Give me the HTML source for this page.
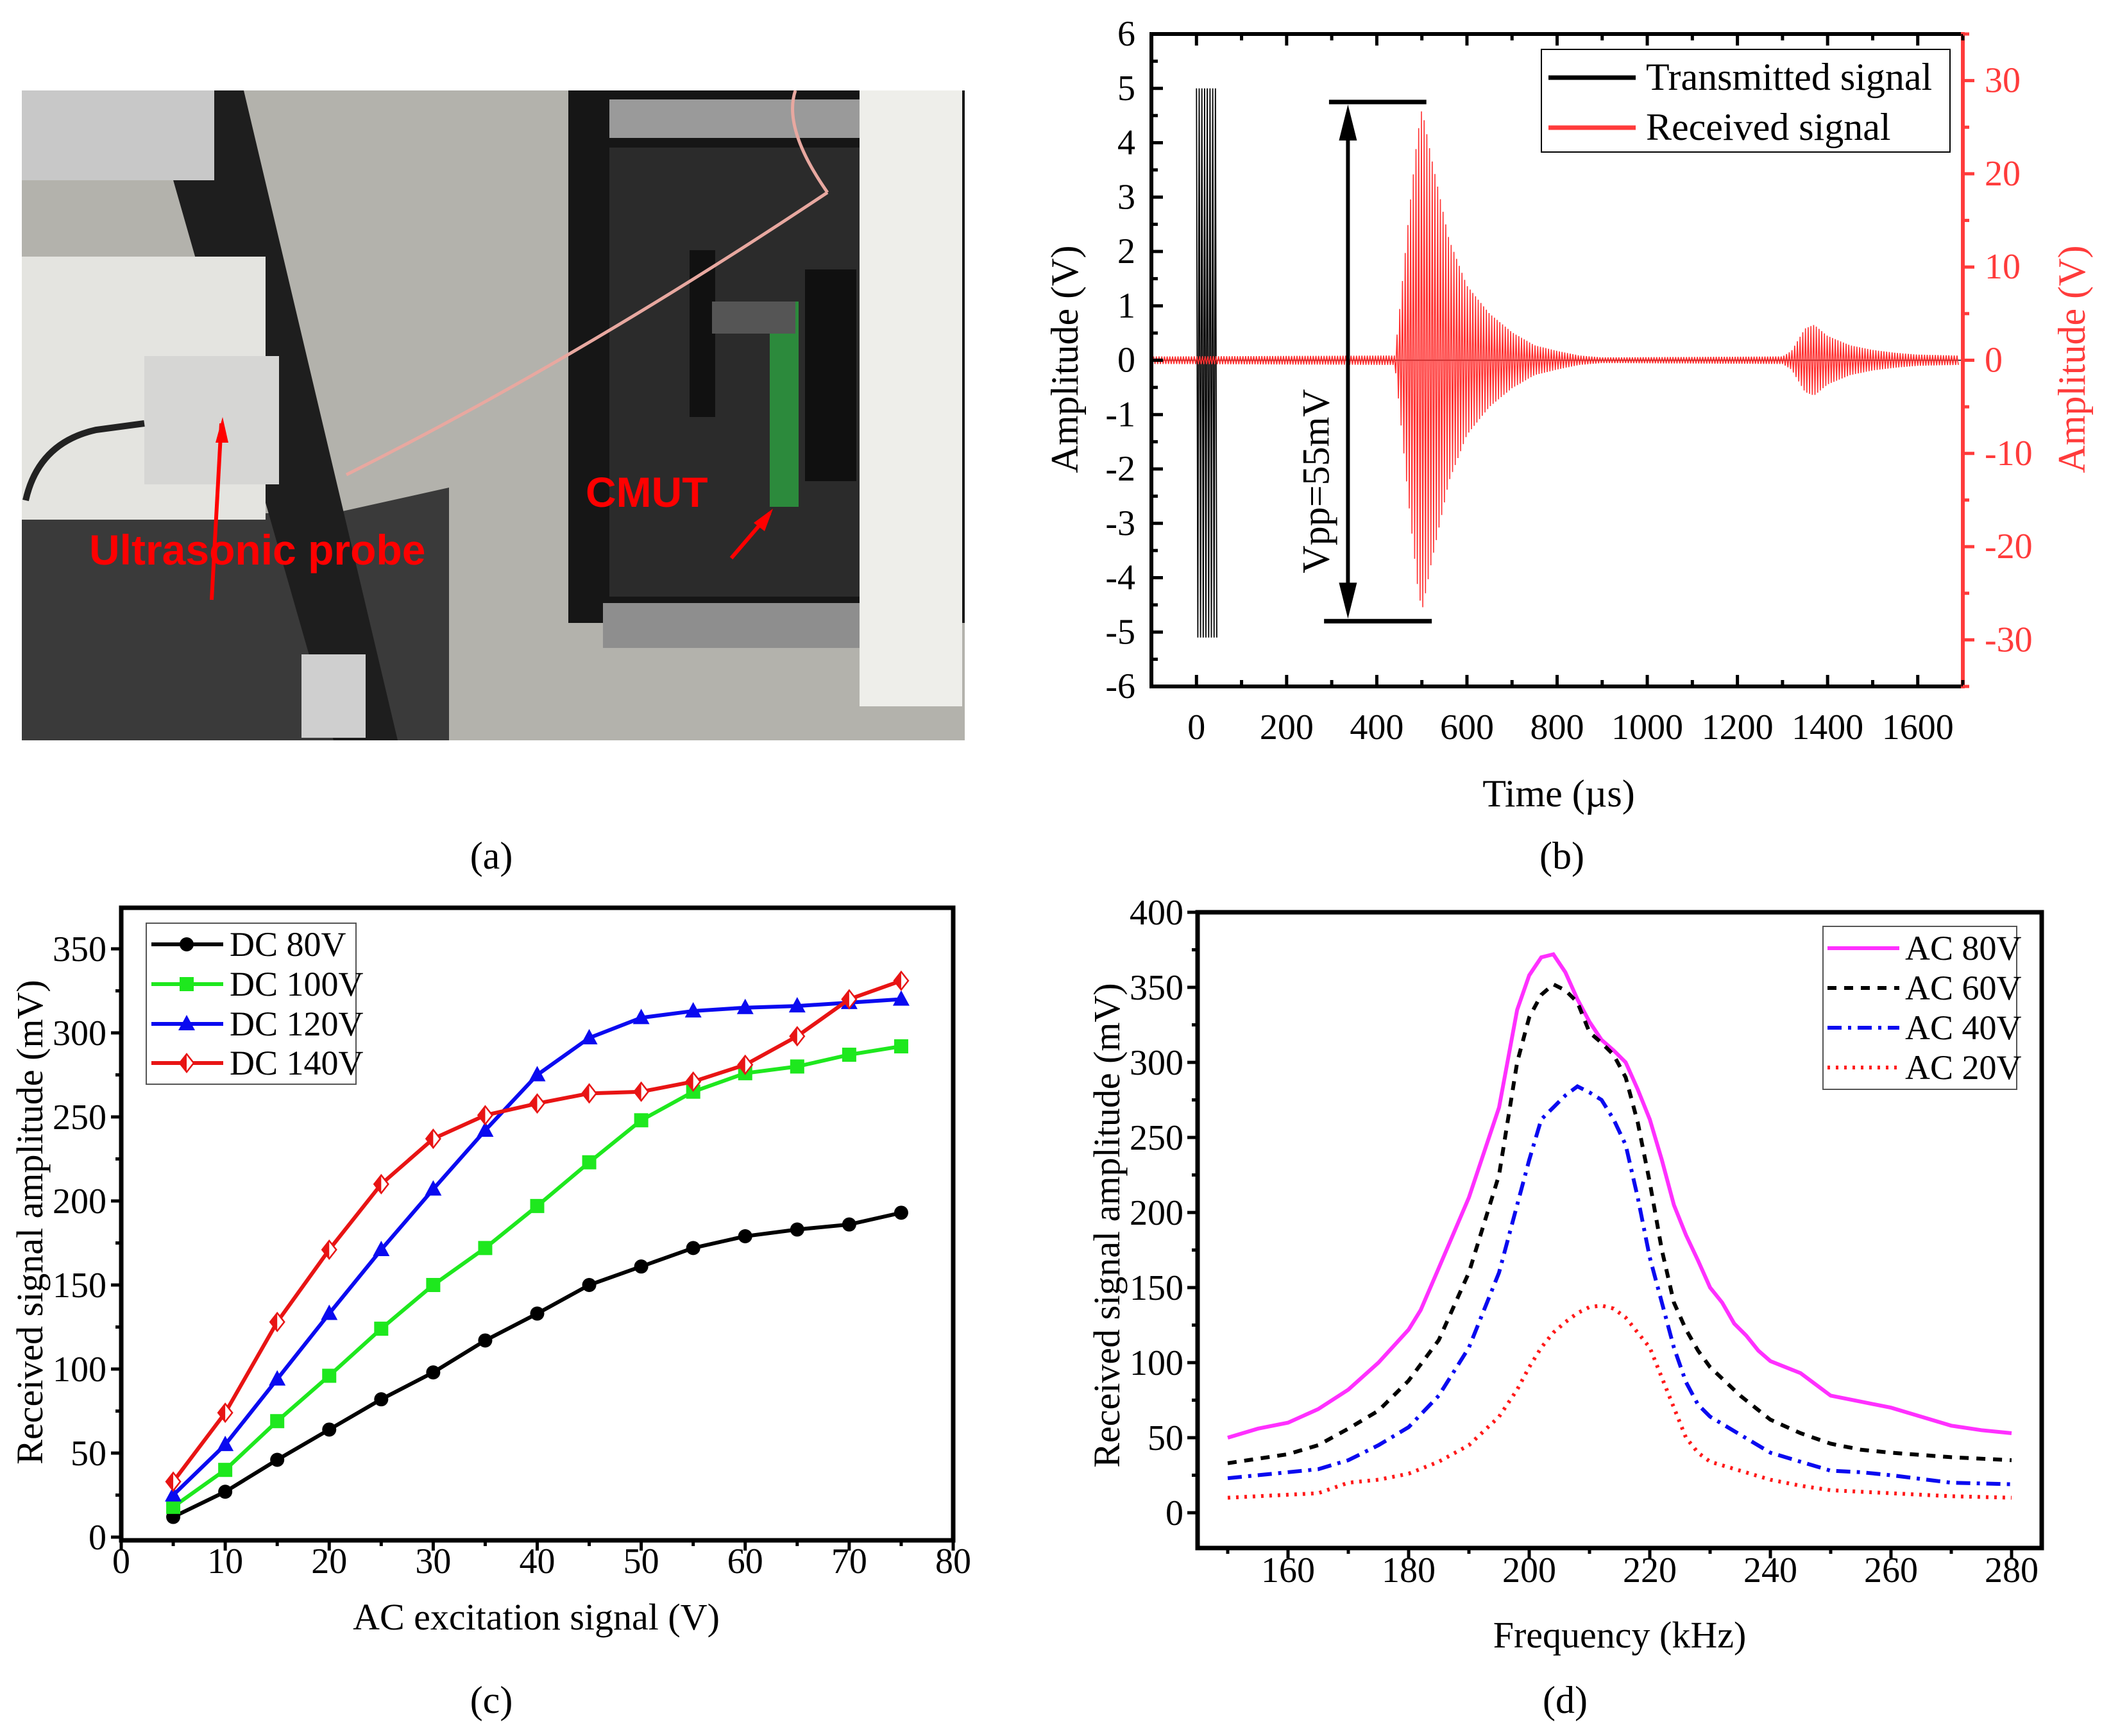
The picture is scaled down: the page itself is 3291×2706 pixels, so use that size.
<!DOCTYPE html>
<html><head><meta charset="utf-8"><style>
html,body{margin:0;padding:0;background:#fff}
svg{display:block}
text{font-family:"Liberation Serif",serif}
</style></head><body>
<svg id="fig" xmlns="http://www.w3.org/2000/svg" width="3291" height="2706" viewBox="0 0 3291 2706">
<g id="photo">
  <rect x="34" y="141" width="1470" height="1013" fill="#a9a8a3"/>
  <rect x="34" y="141" width="1470" height="1013" fill="#bdbbb6" opacity="0.5"/>
  <polygon points="34,800 520,800 700,760 700,1154 34,1154" fill="#3a3a3a"/>
  <polygon points="230,141 380,141 620,1154 520,1154" fill="#1e1e1e"/>
  <rect x="34" y="141" width="300" height="140" fill="#c8c8c8"/>
  <rect x="34" y="400" width="380" height="410" fill="#e4e4e0"/>
  <rect x="225" y="555" width="210" height="200" fill="#d6d6d4"/>
  <path d="M40 780 Q60 690 150 670 L225 660" stroke="#222" stroke-width="10" fill="none"/>
  <rect x="886" y="141" width="618" height="830" fill="#161616"/>
  <rect x="950" y="230" width="500" height="700" fill="#2b2b2b"/>
  <rect x="950" y="155" width="400" height="60" fill="#9a9a9a"/>
  <rect x="940" y="940" width="540" height="70" fill="#8e8e8e"/>
  <rect x="1340" y="141" width="160" height="960" fill="#eeeeea"/>
  <rect x="1200" y="470" width="45" height="320" fill="#2c8a3c"/>
  <rect x="1255" y="420" width="80" height="330" fill="#101010"/>
  <rect x="1075" y="390" width="40" height="260" fill="#111"/>
  <rect x="1110" y="470" width="130" height="50" fill="#555"/>
  <rect x="470" y="1020" width="100" height="130" fill="#cfcfcf"/>
  <path d="M540 740 Q900 560 1290 300" stroke="#e8a8a0" stroke-width="5" fill="none"/>
  <path d="M1290 300 Q1220 200 1240 141" stroke="#e8a8a0" stroke-width="5" fill="none"/>
  <line x1="330" y1="935" x2="345" y2="660" stroke="#f00" stroke-width="6"/>
  <polygon points="347,650 336,690 356,690" fill="#f00"/>
  <line x1="1140" y1="870" x2="1200" y2="800" stroke="#f00" stroke-width="6"/>
  <polygon points="1205,793 1175,815 1192,828" fill="#f00"/>
  <text x="913" y="790" font-size="66" font-weight="bold" fill="#f00" style="font-family:'Liberation Sans',sans-serif">CMUT</text>
  <text x="139" y="880" font-size="66" font-weight="bold" fill="#f00" style="font-family:'Liberation Sans',sans-serif">Ultrasonic probe</text>
</g>
<text x="766" y="1354" font-size="60" text-anchor="middle">(a)</text>
<g id="pb"></g>
<g id="pc"></g>
<g id="pd"></g>
</svg>
<script>
// ---------- Panel (b) data ----------
const bXTicks=[0,200,400,600,800,1000,1200,1400,1600];
const bYLeftTicks=[6,5,4,3,2,1,0,-1,-2,-3,-4,-5,-6];
const bYRightTicks=[30,20,10,0,-10,-20,-30];
const txStart=[0]; const txEnd=[45]; const txAmpTop=[5]; const txAmpBottom=[-5.1];
const rxEnvTime=[-95,440,450,470,490,500,520,560,600,650,700,750,800,850,900,1300,1320,1350,1370,1400,1450,1500,1550,1600,1690];
const rxEnvAmp=[0.4,0.5,5,15,24,27,22,13,8,5,3,1.6,1,0.5,0.3,0.4,1,3.4,3.8,2.6,1.6,1.1,0.8,0.6,0.5];
// ---------- Panel (c) data ----------
const cX=[5,10,15,20,25,30,35,40,45,50,55,60,65,70,75];
const cDC80=[12,27,46,64,82,98,117,133,150,161,172,179,183,186,193];
const cDC100=[18,40,69,96,124,150,172,197,223,248,265,276,280,287,292];
const cDC120=[25,55,94,133,171,207,242,275,297,309,313,315,316,318,320];
const cDC140=[33,74,128,171,210,237,251,258,264,265,271,281,298,320,331];
const cXTicks=[0,10,20,30,40,50,60,70,80];
const cYTicks=[0,50,100,150,200,250,300,350];
// ---------- Panel (d) data ----------
const dF80=[150,155,160,165,170,175,180,182,185,190,195,198,200,202,204,206,208,210,212,214,216,218,220,222,224,226,228,230,232,234,236,238,240,245,250,255,260,265,270,275,280];
const dAC80=[50,56,60,69,82,100,122,135,163,210,270,335,358,370,372,360,342,327,315,308,300,282,262,235,205,185,168,150,140,126,118,108,101,93,78,74,70,64,58,55,53];
const dF60=[150,155,160,165,170,175,180,185,190,195,198,200,202,204,206,208,210,212,214,216,218,220,222,224,226,228,230,235,240,245,250,255,260,270,280];
const dAC60=[33,36,39,45,56,68,88,115,160,225,300,330,345,352,348,340,320,313,305,290,260,220,175,140,122,108,97,78,62,53,46,42,40,37,35];
const dF40=[150,155,160,165,170,175,180,185,190,195,198,200,202,204,206,208,210,212,214,216,218,220,222,224,226,228,230,235,240,245,250,255,260,270,280];
const dAC40=[23,25,27,29,35,45,57,78,110,160,205,235,262,270,278,284,280,275,262,245,210,170,140,110,87,72,64,52,40,34,28,27,25,20,19];
const dF20=[150,155,160,165,170,175,180,185,190,195,198,200,202,204,206,208,210,212,214,216,218,220,222,224,226,228,230,235,240,245,250,260,270,280];
const dAC20=[10,11,12,13,20,22,26,34,45,64,82,97,110,120,127,133,137,138,136,130,120,110,90,70,50,40,34,28,22,18,15,13,11,10];
const dXTicks=[160,180,200,220,240,260,280];
const dYTicks=[0,50,100,150,200,250,300,350,400];

const NS='http://www.w3.org/2000/svg';
function mk(parent,tag,attrs){const e=document.createElementNS(NS,tag);for(const k in attrs)e.setAttribute(k,attrs[k]);parent.appendChild(e);return e;}
function lin(d0,d1,r0,r1){return v=>r0+(v-d0)/(d1-d0)*(r1-r0);}
function txt(parent,x,y,s,size,anchor,fill){const t=mk(parent,'text',{x:x,y:y,'font-size':size,'text-anchor':anchor||'middle',fill:fill||'#000'});t.textContent=s;return t;}

// ===== Panel b =====
(function(){
const g=document.getElementById('pb');
const L=1795,R=3060,T=53,B=1070;
const x=lin(-100,1700,L,R), yl=lin(-6,6,B,T), yr=lin(-35,35,B,T);
mk(g,'line',{x1:L,x2:R,y1:yl(0),y2:yl(0),stroke:'#000','stroke-width':1.5});
let d='';
for(let t=txStart[0];t<=txEnd[0];t+=3){const a=(Math.round(t/3)%2===0)?txAmpTop[0]:txAmpBottom[0];d+=(d?'L':'M')+x(t).toFixed(1)+' '+yl(a).toFixed(1);}
const tx=mk(g,'path',{d:d,stroke:'#000','stroke-width':1.8,fill:'none'});


function env(t){for(let i=0;i<rxEnvTime.length-1;i++){if(t>=rxEnvTime[i]&&t<=rxEnvTime[i+1]){const f=(t-rxEnvTime[i])/(rxEnvTime[i+1]-rxEnvTime[i]);return rxEnvAmp[i]+f*(rxEnvAmp[i+1]-rxEnvAmp[i]);}}return 0.3;}
d='';let k=0;
for(let t=-95;t<=1690;t+=3,k++){const a=env(t)*(k%2?-1:1);d+=(d?'L':'M')+x(t).toFixed(1)+' '+yr(a).toFixed(1);}
const rx=mk(g,'path',{d:d,stroke:'#ff3030','stroke-width':1.6,fill:'none'});


mk(g,'path',{d:`M${R} ${T} L${L} ${T} L${L} ${B} L${R} ${B}`,stroke:'#000','stroke-width':6,fill:'none'});
mk(g,'line',{x1:R,x2:R,y1:T-3,y2:B+3,stroke:'#ff3b3b','stroke-width':6});
for(let v=-100;v<=1700;v+=100){const major=v%200===0;const xx=x(v);mk(g,'line',{x1:xx,x2:xx,y1:B,y2:B-(major?18:10),stroke:'#000','stroke-width':5});mk(g,'line',{x1:xx,x2:xx,y1:T,y2:T+(major?18:10),stroke:'#000','stroke-width':5});}
bXTicks.forEach(v=>{const t=txt(g,x(v),1152,String(v),56);});
for(let v=-6;v<=6;v+=0.5){const major=Number.isInteger(v);mk(g,'line',{x1:L,x2:L+(major?18:10),y1:yl(v),y2:yl(v),stroke:'#000','stroke-width':5});}
bYLeftTicks.forEach(v=>{const t=txt(g,1770,yl(v)+18,String(v),56,'end');});
for(let v=-35;v<=35;v+=5){const major=v%10===0;mk(g,'line',{x1:R,x2:R+(major?18:10),y1:yr(v),y2:yr(v),stroke:'#ff3b3b','stroke-width':5});}
bYRightTicks.forEach(v=>{const t=txt(g,3094,yr(v)+18,String(v),56,'start','#ff3b3b');});
let t=txt(g,0,0,'Amplitude (V)',60);t.setAttribute('transform','translate(1680,560) rotate(-90)');
t=txt(g,0,0,'Amplitude (V)',60,'middle','#ff3b3b');t.setAttribute('transform','translate(3250,560) rotate(-90)');
t=txt(g,2430,1257,'Time (µs)',60);
t=txt(g,2435,1354,'(b)',60);
const ann=mk(g,'g',{});
mk(ann,'line',{x1:x(294),x2:x(510),y1:yl(4.75),y2:yl(4.75),stroke:'#000','stroke-width':7});
mk(ann,'line',{x1:x(283),x2:x(522),y1:yl(-4.8),y2:yl(-4.8),stroke:'#000','stroke-width':7});
const ax=x(336);
mk(ann,'line',{x1:ax,x2:ax,y1:yl(4.75)+40,y2:yl(-4.8)-40,stroke:'#000','stroke-width':6});
mk(ann,'polygon',{points:`${ax},${yl(4.75)+4} ${ax-14},${yl(4.75)+60} ${ax+14},${yl(4.75)+60}`,fill:'#000'});
mk(ann,'polygon',{points:`${ax},${yl(-4.8)-4} ${ax-14},${yl(-4.8)-60} ${ax+14},${yl(-4.8)-60}`,fill:'#000'});
t=txt(ann,0,0,'Vpp=55mV',60);t.setAttribute('transform',`translate(${ax-30},750) rotate(-90)`);
const lg=mk(g,'g',{});
mk(lg,'rect',{x:2403,y:77,width:637,height:160,fill:'#fff',stroke:'#000','stroke-width':2});
mk(lg,'line',{x1:2414,x2:2550,y1:121,y2:121,stroke:'#000','stroke-width':7});
mk(lg,'line',{x1:2414,x2:2550,y1:199,y2:199,stroke:'#ff3b3b','stroke-width':7});
txt(lg,2566,140,'Transmitted signal',60,'start');
txt(lg,2566,218,'Received signal',60,'start');
})();

// ===== Panel c =====
(function(){
const g=document.getElementById('pc');
const L=189,R=1486,T=1415,B=2401;
const x=lin(0,80,L,R), y=lin(0,350,2396,1479);
mk(g,'rect',{x:L,y:T,width:R-L,height:B-T,fill:'none',stroke:'#000','stroke-width':7});
for(let v=0;v<=80;v+=5){const xx=x(v);mk(g,'line',{x1:xx,x2:xx,y1:B,y2:B+(v%10===0?16:9),stroke:'#000','stroke-width':5});}
cXTicks.forEach(v=>{const t=txt(g,x(v),2452,String(v),56);});
for(let v=0;v<=370;v+=25){mk(g,'line',{x1:L,x2:L-(v%50===0?16:9),y1:y(v),y2:y(v),stroke:'#000','stroke-width':5});}
cYTicks.forEach(v=>{const t=txt(g,166,y(v)+19,String(v),56,'end');});
let t=txt(g,0,0,'Received signal amplitude (mV)',58);t.setAttribute('transform','translate(66,1905) rotate(-90)');
t=txt(g,836,2540,'AC excitation signal (V)',58);
t=txt(g,766,2670,'(c)',60);
function marker(p,cx,cy,type,color){
  if(type==='circle')mk(p,'circle',{cx:cx,cy:cy,r:11,fill:color});
  else if(type==='square')mk(p,'rect',{x:cx-11,y:cy-11,width:22,height:22,fill:color});
  else if(type==='tri')mk(p,'polygon',{points:`${cx},${cy-14} ${cx-13},${cy+10} ${cx+13},${cy+10}`,fill:color});
  else {mk(p,'polygon',{points:`${cx},${cy-14} ${cx+11},${cy} ${cx},${cy+14} ${cx-11},${cy}`,fill:'#fff',stroke:color,'stroke-width':2.5});mk(p,'polygon',{points:`${cx},${cy-14} ${cx-11},${cy} ${cx},${cy+14}`,fill:color});}
}
const series=[[cDC80,'#000','circle','series-dc-80v'],[cDC100,'#1ee81e','square','series-dc-100v'],[cDC120,'#0a0af0','tri','series-dc-120v'],[cDC140,'#e81414','diamond','series-dc-140v']];
series.forEach(s=>{
  const sg=mk(g,'g',{});
  
  
  mk(sg,'polyline',{points:cX.map((v,i)=>x(v)+','+y(s[0][i])).join(' '),stroke:s[1],'stroke-width':6,fill:'none'});
  cX.forEach((v,i)=>marker(sg,x(v),y(s[0][i]),s[2],s[1]));
});
const lg=mk(g,'g',{});
mk(lg,'rect',{x:228,y:1439,width:327,height:251,fill:'#fff',stroke:'#555','stroke-width':2});
const names=['DC 80V','DC 100V','DC 120V','DC 140V'];const ly=[1472,1534,1596,1657];
series.forEach((s,i)=>{mk(lg,'line',{x1:236,x2:348,y1:ly[i],y2:ly[i],stroke:s[1],'stroke-width':6});marker(lg,291,ly[i],s[2],s[1]);txt(lg,358,ly[i]+18,names[i],54,'start');});
})();

// ===== Panel d =====
(function(){
const g=document.getElementById('pd');
const L=1867,R=3183,T=1422,B=2413;
const x=lin(160,280,2008,3136), y=lin(0,400,2358,1422);
mk(g,'rect',{x:L,y:T,width:R-L,height:B-T,fill:'none',stroke:'#000','stroke-width':7});
for(let v=150;v<=280;v+=10){const xx=x(v);mk(g,'line',{x1:xx,x2:xx,y1:B,y2:B+(v%20===0?16:9),stroke:'#000','stroke-width':5});}
dXTicks.forEach(v=>{const t=txt(g,x(v),2466,String(v),56);});
for(let v=0;v<=400;v+=25){mk(g,'line',{x1:L,x2:L-(v%50===0?16:9),y1:y(v),y2:y(v),stroke:'#000','stroke-width':5});}
dYTicks.forEach(v=>{const t=txt(g,1845,y(v)+19,String(v),56,'end');});
let t=txt(g,0,0,'Received signal amplitude (mV)',58);t.setAttribute('transform','translate(1745,1910) rotate(-90)');
t=txt(g,2525,2568,'Frequency (kHz)',58);
t=txt(g,2440,2670,'(d)',60);
const series=[[dF80,dAC80,'#ff30ff','','series-ac-80v'],[dF60,dAC60,'#000','14 12','series-ac-60v'],[dF40,dAC40,'#0a0af0','22 10 5 10','series-ac-40v'],[dF20,dAC20,'#ff1a1a','4 9','series-ac-20v']];
series.forEach(s=>{
  const p=mk(g,'polyline',{points:s[0].map((v,i)=>x(v)+','+y(s[1][i])).join(' '),stroke:s[2],'stroke-width':6,fill:'none','stroke-dasharray':s[3]||'none'});
  
  
});
const lg=mk(g,'g',{});
mk(lg,'rect',{x:2842,y:1444,width:302,height:254,fill:'#fff',stroke:'#555','stroke-width':2});
const names=['AC 80V','AC 60V','AC 40V','AC 20V'];const ly=[1478,1540,1602,1664];
series.forEach((s,i)=>{mk(lg,'line',{x1:2849,x2:2961,y1:ly[i],y2:ly[i],stroke:s[2],'stroke-width':6,'stroke-dasharray':s[3]||'none'});txt(lg,2970,ly[i]+18,names[i],54,'start');});
})();
</script>
</body></html>
